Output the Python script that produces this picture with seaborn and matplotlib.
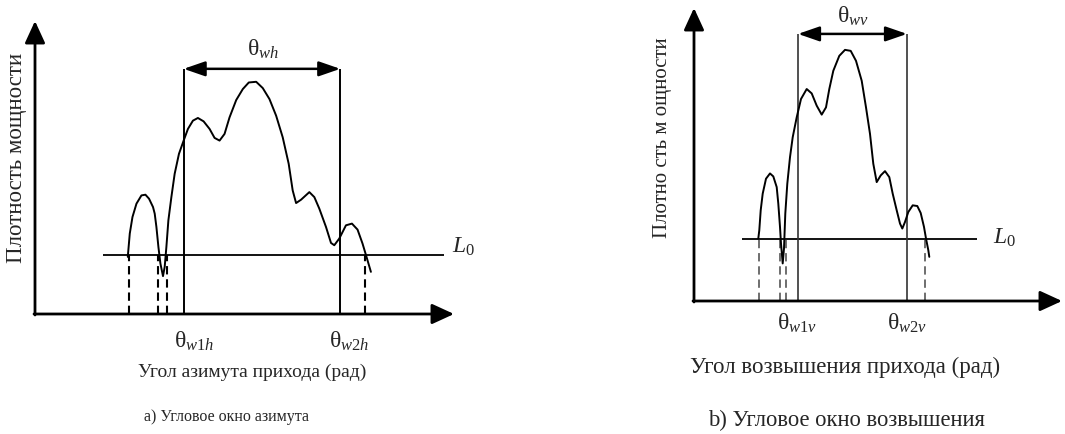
import numpy as np
import pandas as pd
import matplotlib
matplotlib.use("Agg")
import matplotlib.pyplot as plt
import seaborn as sns

# ---------------------------------------------------------------
# Data (arbitrary units): angle of arrival vs. power density
# ---------------------------------------------------------------
# (a) azimuth
az_angle = [93.0, 95.0, 97.7, 101.7, 106.7, 110.7, 114.3, 118.3, 120.0, 121.7,
            123.7, 125.7, 128.3, 130.0, 131.7, 133.7, 136.7, 140.0, 144.3, 149.0,
            153.3, 158.3, 163.3, 169.0, 175.0, 180.0, 185.0, 190.0, 195.0, 201.7,
            208.3, 214.3, 221.7, 228.3, 235.0, 241.7, 248.3, 254.3, 258.3, 261.7,
            266.7, 275.0, 280.0, 285.0, 291.7, 296.7, 300.0, 305.0, 311.7, 317.7,
            323.3, 328.3, 332.3, 336.7]
az_power = [57.3, 80.7, 97.3, 110.7, 119.0, 119.7, 115.7, 107.3, 100.7, 87.3,
            67.3, 50.7, 38.0, 47.3, 67.3, 94.0, 117.3, 140.7, 160.7, 174.0,
            185.7, 194.0, 196.7, 193.3, 185.7, 176.7, 174.0, 180.7, 197.3, 214.7,
            225.7, 232.3, 233.0, 226.7, 215.7, 199.0, 177.3, 150.7, 124.0, 111.3,
            114.7, 122.3, 117.3, 105.7, 87.3, 71.3, 69.0, 75.7, 89.0, 90.7,
            84.7, 70.7, 57.3, 42.3]
az_threshold = 59              # L0
az_window = [149, 306]         # theta_w1h, theta_w2h
az_crossings = [94.7, 123.7, 132.7, 330.7]

# (b) elevation
el_angle = [64.3, 65.3, 66.7, 68.7, 72.0, 76.0, 79.3, 82.7, 84.3, 86.0,
            87.0, 88.7, 90.0, 91.3, 93.3, 96.0, 98.7, 102.7, 107.0, 112.7,
            117.7, 122.7, 127.7, 132.0, 135.3, 139.3, 145.3, 151.0, 156.7, 162.0,
            167.7, 172.0, 176.0, 179.3, 182.7, 186.7, 191.0, 195.3, 198.7, 202.7,
            206.0, 208.3, 211.0, 214.3, 218.7, 223.3, 226.7, 230.0, 232.0, 234.3,
            235.3]
el_power = [62.7, 71.0, 91.0, 107.7, 122.7, 128.0, 125.0, 114.3, 97.7, 74.3,
            57.7, 37.7, 52.7, 87.7, 117.7, 144.3, 164.3, 184.3, 202.7, 212.7,
            208.3, 196.0, 187.0, 194.3, 212.7, 231.0, 246.0, 252.0, 251.0, 241.0,
            221.0, 194.3, 167.7, 137.7, 119.3, 126.0, 130.3, 124.3, 107.7, 91.0,
            77.7, 72.7, 79.3, 89.3, 96.0, 95.3, 88.3, 74.3, 62.7, 51.0,
            44.3]
el_threshold = 62
el_window = [104, 213]
el_crossings = [65, 86, 92, 231]

# ---------------------------------------------------------------
W, H = 1065, 434
sns.set_theme(style="white")
plt.rcParams["font.family"] = ["Liberation Serif", "DejaVu Serif"]
plt.rcParams["mathtext.fontset"] = "custom"
plt.rcParams["mathtext.rm"] = "Liberation Serif"
plt.rcParams["mathtext.it"] = "Liberation Serif:italic"
plt.rcParams["mathtext.bf"] = "Liberation Serif:bold"
plt.rcParams["lines.scale_dashes"] = False

fig = plt.figure(figsize=(W / 100, H / 100), dpi=100)
fig.patch.set_facecolor("white")


def px_axes(left, bottom, width, height):
    """Axes placed in figure pixels; one data unit = one pixel."""
    ax = fig.add_axes([left / W, (H - bottom) / H, width / W, height / H])
    ax.set_xlim(0, width)
    ax.set_ylim(0, height)
    ax.axis("off")
    return ax


def ftext(x, y, s, **kw):
    fig.text(x / W, 1 - y / H, s, **kw)


def draw_panel(ax, angle, power, thr, thr_span, window, arrow_y, crossings,
               xmax, ymax, dash_color, dash_lw, win_color, win_lw):
    # coordinate axes with arrow heads
    axis_arrow = dict(arrowstyle="-|>,head_length=1.35,head_width=0.62",
                      lw=2.0, color="black", shrinkA=0, shrinkB=0,
                      mutation_scale=10)
    ax.annotate("", xy=(0, ymax), xytext=(0, -1), arrowprops=axis_arrow,
                annotation_clip=False)
    ax.annotate("", xy=(xmax, 0), xytext=(-1, 0), arrowprops=axis_arrow,
                annotation_clip=False)

    # threshold level L0
    ax.plot(thr_span, [thr, thr], color="black", lw=1.3, solid_capstyle="butt")

    # dashed drops from threshold crossings
    for xc in crossings:
        ax.plot([xc, xc], [0, thr], color=dash_color, lw=dash_lw,
                linestyle=(0, (6, 3.5)))

    # angular window bounds
    for xw in window:
        ax.plot([xw, xw], [0, arrow_y], color=win_color, lw=win_lw,
                solid_capstyle="butt")
    ax.annotate("", xy=(window[1], arrow_y), xytext=(window[0], arrow_y),
                arrowprops=dict(arrowstyle="<|-|>,head_length=1.3,head_width=0.45",
                                lw=1.8, color="black", shrinkA=0, shrinkB=0,
                                mutation_scale=10),
                annotation_clip=False)

    # power density profile
    df = pd.DataFrame({"angle": angle, "power": power})
    sns.lineplot(data=df, x="angle", y="power", ax=ax, sort=False,
                 color="black", lw=1.4, legend=False)
    ax.set_xlim(0, xmax + 1)
    ax.set_ylim(0, ymax + 1)
    ax.axis("off")


# ---------------- (a) azimuth window ----------------
axL = px_axes(35, 314, 420, 294)
draw_panel(axL, az_angle, az_power, az_threshold, [68, 410], az_window, 246,
           az_crossings, 420, 294, "black", 1.5, "black", 1.4)

ftext(17, 158, "Плотность мощности", rotation=90, ha="center", va="center",
      fontsize=16.5)
ftext(263, 49, "θ$_{wh}$", ha="center", va="center", fontsize=17)
ftext(452, 247, "$L_0$", ha="left", va="center", fontsize=17)
ftext(174, 341, "θ$_{w1h}$", ha="left", va="center", fontsize=17)
ftext(329, 341, "θ$_{w2h}$", ha="left", va="center", fontsize=17)
ftext(252, 372, "Угол азимута прихода (рад)", ha="center", va="center",
      fontsize=14)
ftext(227, 417, "а) Угловое окно азимута", ha="center", va="center",
      fontsize=11.5)

# ---------------- (b) elevation window ----------------
axR = px_axes(694, 301, 369, 294)
draw_panel(axR, el_angle, el_power, el_threshold, [48, 283], el_window, 268,
           el_crossings, 368, 294, "#555555", 1.2, "#333333", 1.2)

ftext(663, 138, "Плотно сть м ощности", rotation=90, ha="center",
      va="center", fontsize=15)
ftext(853, 16, "θ$_{wv}$", ha="center", va="center", fontsize=17)
ftext(993, 238, "$L_0$", ha="left", va="center", fontsize=17)
ftext(777, 323, "θ$_{w1v}$", ha="left", va="center", fontsize=17)
ftext(887, 323, "θ$_{w2v}$", ha="left", va="center", fontsize=17)
ftext(845, 367, "Угол возвышения прихода (рад)", ha="center", va="center",
      fontsize=16.5)
ftext(846, 420, "b) Угловое окно возвышения", ha="center", va="center",
      fontsize=16.3)

fig.savefig("out.png", dpi=100, facecolor="white")
